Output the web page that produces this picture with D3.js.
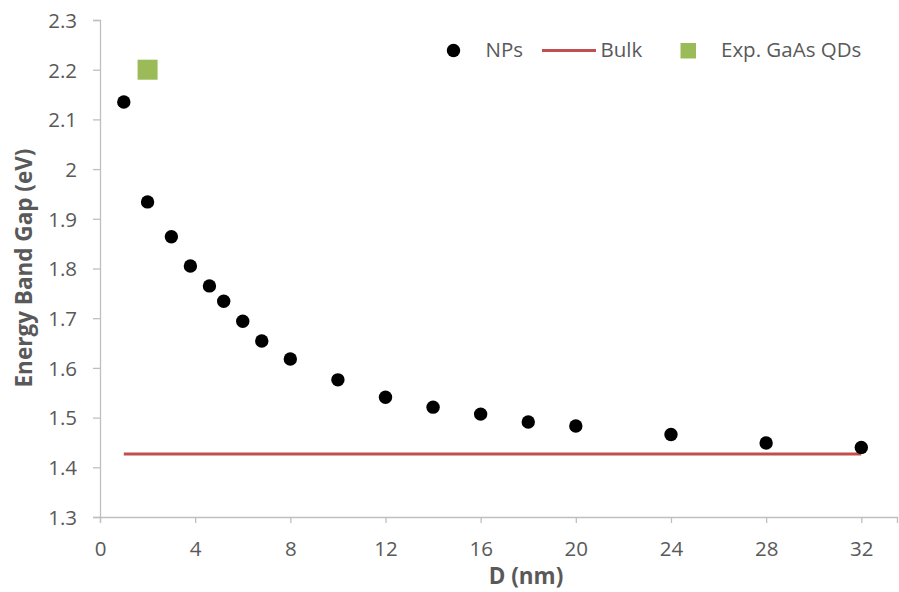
<!DOCTYPE html>
<html><head><meta charset="utf-8">
<script src="https://cdn.jsdelivr.net/npm/d3@7"></script>
<style>body{margin:0;background:#fff}svg{display:block}text{font-family:"Open Sans",sans-serif}</style>
</head><body><svg id="c" width="899" height="592"></svg>
<script>
const npD   = [1, 2, 3, 3.8, 4.6, 5.2, 6, 6.8, 8, 10, 12, 14, 16, 18, 20, 24, 28, 32];
const npEg  = [2.135, 1.934, 1.864, 1.805, 1.765, 1.734, 1.694, 1.654, 1.618, 1.576, 1.541, 1.521, 1.507, 1.491, 1.483, 1.466, 1.449, 1.440];
const bulkD  = [1, 32];
const bulkEg = [1.427, 1.427];
const expD  = [2];
const expEg = [2.2];
const xTicks = [0, 4, 8, 12, 16, 20, 24, 28, 32];
const yTicks = [1.3, 1.4, 1.5, 1.6, 1.7, 1.8, 1.9, 2, 2.1, 2.2, 2.3];

const svg = d3.select("#c");
const x = d3.scaleLinear().domain([0, 33.5]).range([100, 897]);
const y = d3.scaleLinear().domain([1.3, 2.3]).range([517, 20]);
const grey = "#bfbfbf", txt = "#595959";
const F = "Open Sans";

const xa = svg.append("g").attr("transform", "translate(0,517)")
  .call(d3.axisBottom(x).tickValues(xTicks).tickSize(6).tickFormat(d3.format("d")));
const ya = svg.append("g").attr("transform", "translate(100,0)")
  .call(d3.axisLeft(y).tickValues(yTicks).tickSize(7).tickFormat(d => String(+d.toFixed(1))));
[xa, ya].forEach(a => {
  a.select(".domain").attr("stroke", grey).attr("stroke-width", 1.3);
  a.selectAll(".tick line").attr("stroke", grey).attr("stroke-width", 1.3);
  a.selectAll(".tick text").attr("fill", txt).style("font-size", "20.5px").style("font-family", F);
});
xa.selectAll(".tick text").attr("y", 39).attr("dy", 0);
ya.selectAll(".tick text").attr("x", -23).attr("dy", "0.36em");

// Bulk line
svg.append("path")
  .datum(bulkD.map((d, i) => [d, bulkEg[i]]))
  .attr("d", d3.line().x(d => x(d[0])).y(d => y(d[1])))
  .attr("stroke", "#c0504d").attr("stroke-width", 3).attr("fill", "none");

// NPs
svg.append("g").selectAll("circle").data(npD.map((d, i) => [d, npEg[i]])).join("circle")
  .attr("cx", d => x(d[0])).attr("cy", d => y(d[1])).attr("r", 6.7).attr("fill", "#000");

// Exp
svg.append("g").selectAll("rect").data(expD.map((d, i) => [d, expEg[i]])).join("rect")
  .attr("x", d => x(d[0]) - 10).attr("y", d => y(d[1]) - 10).attr("width", 20).attr("height", 20)
  .attr("fill", "#9bbb59");

// Axis titles
svg.append("text").attr("transform", "translate(32,268) rotate(-90)").attr("text-anchor", "middle")
  .attr("fill", txt).style("font-size", "22.5px").style("font-weight", "bold").text("Energy Band Gap (eV)");
svg.append("text").attr("x", 526).attr("y", 584).attr("text-anchor", "middle")
  .attr("fill", txt).style("font-size", "22.5px").style("font-weight", "bold").text("D (nm)");

// Legend
const lg = svg.append("g");
lg.append("circle").attr("cx", 453.5).attr("cy", 50.5).attr("r", 6.7).attr("fill", "#000");
lg.append("text").attr("x", 485.5).attr("y", 57).attr("fill", txt).style("font-size", "20.5px").text("NPs");
lg.append("line").attr("x1", 542).attr("x2", 596).attr("y1", 50.5).attr("y2", 50.5)
  .attr("stroke", "#c0504d").attr("stroke-width", 3);
lg.append("text").attr("x", 600.5).attr("y", 57).attr("fill", txt).style("font-size", "20.5px").text("Bulk");
lg.append("rect").attr("x", 680.5).attr("y", 43).attr("width", 15.5).attr("height", 15.5).attr("fill", "#9bbb59");
lg.append("text").attr("x", 721).attr("y", 57).attr("fill", txt).style("font-size", "20.5px").text("Exp. GaAs QDs");
</script></body></html>
